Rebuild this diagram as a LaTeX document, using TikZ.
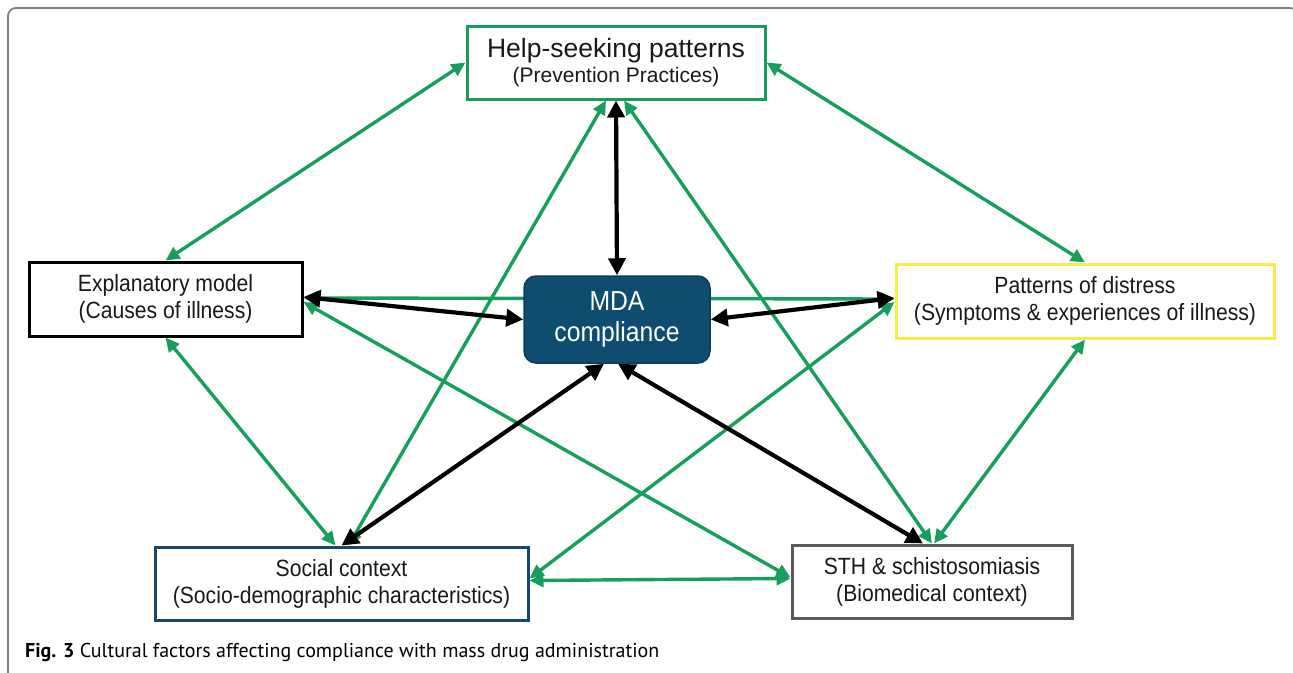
\documentclass[tikz,border=0pt]{standalone}
\usepackage{fontspec}
\setmainfont{Liberation Sans}
\newfontfamily\narrowfont[FakeStretch=0.9]{Liberation Sans}
\newfontfamily\capfont{PT Sans}
\usetikzlibrary{arrows.meta,backgrounds}
\definecolor{mygreen}{RGB}{24,158,92}
\definecolor{myyellow}{RGB}{245,236,70}
\definecolor{mynavy}{RGB}{22,72,108}
\definecolor{mdafill}{RGB}{14,76,112}
\definecolor{mygray}{RGB}{90,90,90}
\definecolor{framegray}{RGB}{128,128,128}
\begin{document}
\begin{tikzpicture}[x=1pt,y=-1pt,
  box/.style={draw, line width=3pt, fill=white, inner sep=0pt, align=center,
    text=black!90, font=\narrowfont\fontsize{23.5}{27}\selectfont},
  gedge/.style={draw=mygreen, line width=3.4pt,
    {Triangle[length=14pt,width=13pt]}-{Triangle[length=14pt,width=13pt]}},
  bedge/.style={draw=black, line width=4.2pt,
    {Triangle[length=17pt,width=17pt]}-{Triangle[length=17pt,width=17pt]}}]
\useasboundingbox (0,0) rectangle (1293,672);
\draw[framegray, line width=1.8pt, rounded corners=8pt] (8,700) -- (8,8) -- (1298,8) -- (1298,700);

\node[box, draw=mygreen, minimum width=298pt, minimum height=73pt,
  font=\fontsize{21}{25}\selectfont] (help) at (616,62.5)
  {{\fontsize{26.5}{25}\selectfont Help-seeking patterns}\\(Prevention Practices)};
\node[box, minimum width=273pt, minimum height=74pt] (expl) at (165.5,299)
  {Explanatory model\\(Causes of illness)};
\node[box, draw=myyellow, minimum width=378pt, minimum height=74pt] (pat) at (1085,301)
  {Patterns of distress\\(Symptoms \& experiences of illness)};
\node[box, draw=mynavy, minimum width=373pt, minimum height=73pt] (soc) at (341.5,583.5)
  {Social context\\(Socio-demographic characteristics)};
\node[box, draw=mygray, minimum width=280pt, minimum height=73pt] (sth) at (932,581.5)
  {STH \& schistosomiasis\\(Biomedical context)};
\node[draw=mdafill!80!black, line width=1.5pt, fill=mdafill, rounded corners=12pt,
  minimum width=186pt, minimum height=87pt, inner sep=0pt, align=center, text=white,
  font=\narrowfont\fontsize{27.5}{31}\selectfont] (mda) at (617,319.5)
  {MDA\\compliance};

\begin{scope}[on background layer]
  \draw[gedge] (help.west) -- (expl.north);
  \draw[gedge] (help.east) -- (pat.north);
  \draw[gedge] (expl.south) -- ([xshift=-6pt]soc.north);
  \draw[gedge] (pat.south) -- ([xshift=2pt]sth.north);
  \draw[gedge] ([yshift=3pt]soc.east) -- ([yshift=3pt]sth.west);
  \draw[gedge] ([xshift=-10pt]help.south) -- ([xshift=7pt]soc.north);
  \draw[gedge] ([xshift=8pt]help.south) -- (sth.north);
  \draw[gedge] ([yshift=1pt]expl.east) -- ([yshift=2pt]pat.west);
  \draw[gedge] ([yshift=-3pt]expl.east) -- ([yshift=4pt]sth.west);
  \draw[gedge] ([yshift=5pt]soc.east) -- ([yshift=-1pt]pat.west);
  \draw[bedge] (help.south) -- (mda.north);
  \draw[bedge] ([yshift=2pt]expl.east) -- (mda.west);
  \draw[bedge] (mda.east) -- ([yshift=3pt]pat.west);
  \draw[bedge] ([xshift=-13pt]mda.south) -- (soc.north);
  \draw[bedge] ([xshift=1pt]mda.south) -- ([xshift=-9pt]sth.north);
\end{scope}

\node[anchor=base west, inner sep=0pt, font=\capfont\fontsize{20}{20}\selectfont] (cap) at (25,657)
  {\textbf{Fig. 3} Cultural factors affecting compliance with mass drug administration};
\end{tikzpicture}
\end{document}
